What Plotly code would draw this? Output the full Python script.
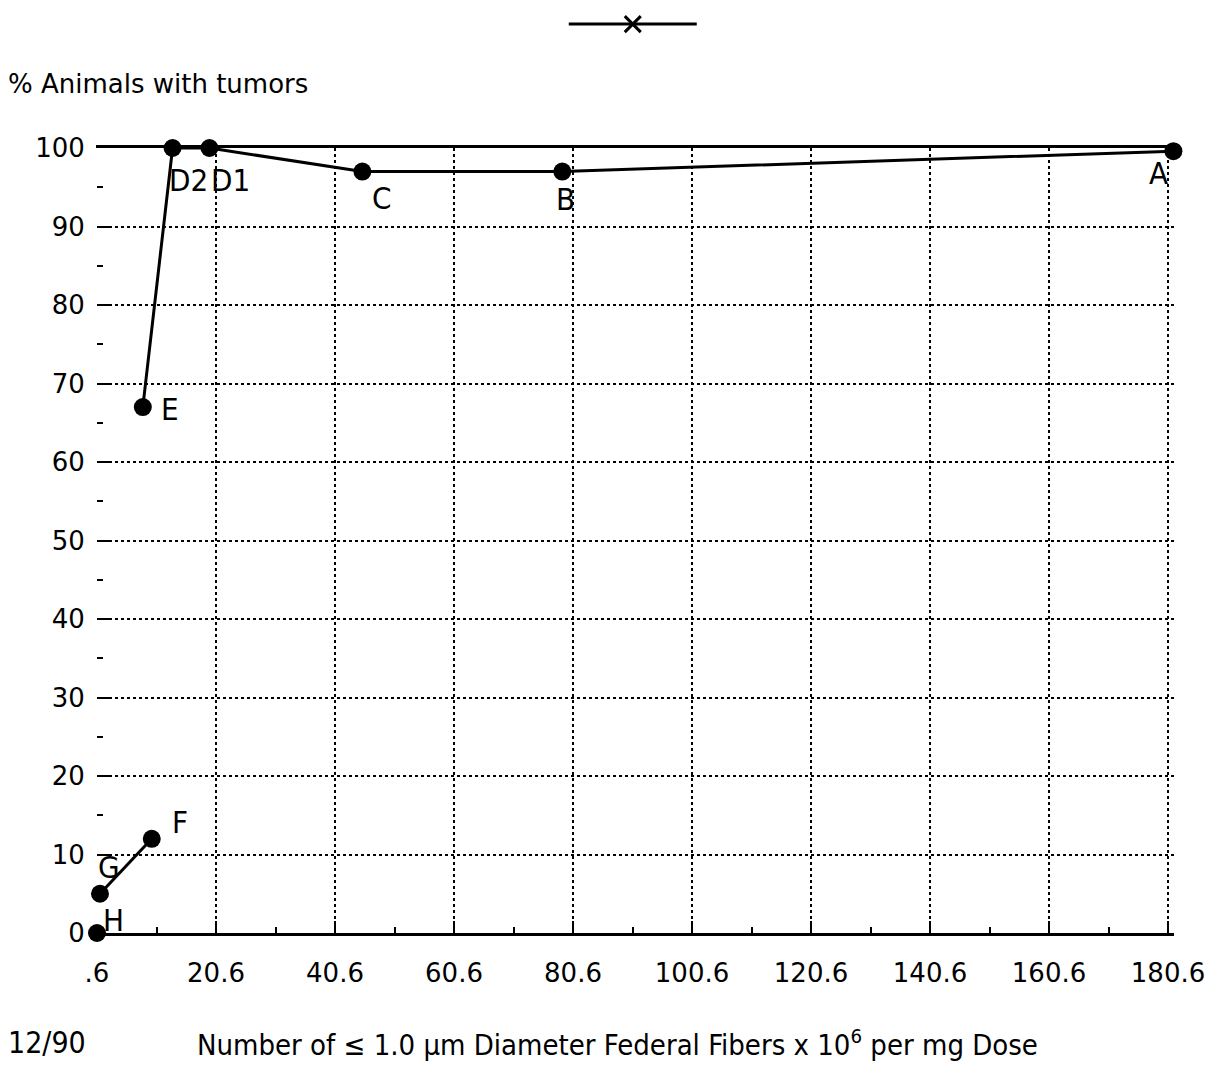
import plotly.graph_objects as go

# Data
point_labels = ["E", "D2", "D1", "C", "B", "A"]
upper_x = [8.3, 13.3, 19.5, 45.2, 78.8, 181.5]
upper_y = [67, 100, 100, 97, 97, 99.6]

lower_labels = ["G", "F"]
lower_x = [1.1, 9.8]
lower_y = [5, 12]

h_label = ["H"]
h_x = [0.6]
h_y = [0]

# label offsets in pixels (style), relative to marker centre
upper_label_dx = [27, 16, 21, 19, 3, -15]
upper_label_dy = [-2, -32, -32, -26, -27, -22]
lower_label_dx = [9, 28]
lower_label_dy = [27, 17]
h_label_dx = [16]
h_label_dy = [13]

x_tickvals = [0.6, 20.6, 40.6, 60.6, 80.6, 100.6, 120.6, 140.6, 160.6, 180.6]
x_ticktext = [".6", "20.6", "40.6", "60.6", "80.6", "100.6", "120.6", "140.6", "160.6", "180.6"]
x_minor = [10.6, 30.6, 50.6, 70.6, 90.6, 110.6, 130.6, 150.6, 170.6]

FONT = "DejaVu Sans"
NARROW = "Liberation Sans Narrow, DejaVu Sans Condensed, Arial Narrow, DejaVu Sans"
BLACK = "black"

fig = go.Figure()

fig.add_trace(go.Scatter(
    x=upper_x, y=upper_y, mode="lines+markers",
    line=dict(color=BLACK, width=3),
    marker=dict(color=BLACK, size=18),
    cliponaxis=False, showlegend=False))

fig.add_trace(go.Scatter(
    x=lower_x, y=lower_y, mode="lines+markers",
    line=dict(color=BLACK, width=3),
    marker=dict(color=BLACK, size=18),
    cliponaxis=False, showlegend=False))

fig.add_trace(go.Scatter(
    x=h_x, y=h_y, mode="markers",
    marker=dict(color=BLACK, size=18),
    cliponaxis=False, showlegend=False))

# Legend-only entry (line with x marker, no name)
fig.add_trace(go.Scatter(
    x=[None], y=[None], mode="lines+markers", name="",
    line=dict(color=BLACK, width=3),
    marker=dict(symbol="x-thin", size=17, color=BLACK, line=dict(width=3, color=BLACK)),
    showlegend=True))

annotations = []
for labels, xs, ys, dxs, dys in [
    (point_labels, upper_x, upper_y, upper_label_dx, upper_label_dy),
    (lower_labels, lower_x, lower_y, lower_label_dx, lower_label_dy),
    (h_label, h_x, h_y, h_label_dx, h_label_dy),
]:
    for t, x, y, dx, dy in zip(labels, xs, ys, dxs, dys):
        annotations.append(dict(
            text=t, x=x, y=y, xref="x", yref="y", showarrow=False,
            xanchor="center", yanchor="middle", xshift=dx, yshift=dy,
            font=dict(family=NARROW, size=31, color=BLACK)))

annotations += [
    dict(text="% Animals with tumors", xref="paper", yref="paper",
         x=-0.0845, y=1.082, xanchor="left", yanchor="middle", showarrow=False,
         font=dict(family=FONT, size=26, color=BLACK)),
    dict(text="12/90", xref="paper", yref="paper",
         x=-0.0845, y=-0.14, xanchor="left", yanchor="middle", showarrow=False,
         font=dict(family=NARROW, size=30, color=BLACK)),
    dict(text="Number of ≤ 1.0 µm Diameter Federal Fibers x 10<sup>6</sup> per mg Dose",
         xref="paper", yref="paper",
         x=0.0909, y=-0.14, xanchor="left", yanchor="middle", showarrow=False,
         font=dict(family=NARROW, size=29, color=BLACK)),
]

fig.update_layout(
    width=1217, height=1069,
    margin=dict(l=97, r=39, t=148, b=136),
    paper_bgcolor="white", plot_bgcolor="white",
    font=dict(family=FONT, size=24, color=BLACK),
    showlegend=True,
    legend=dict(orientation="h", x=0.522, xanchor="center", xref="container",
                y=0.991, yanchor="top", yref="container",
                itemwidth=128, font=dict(size=12),
                bgcolor="rgba(0,0,0,0)"),
    xaxis=dict(
        range=[0.6, 181.6],
        tickmode="array", tickvals=x_tickvals, ticktext=x_ticktext,
        ticks="inside", ticklen=12, tickwidth=2, tickcolor=BLACK,
        minor=dict(tickmode="array", tickvals=x_minor, ticks="inside", ticklen=6,
                   tickwidth=2, tickcolor=BLACK, showgrid=False),
        showline=True, linewidth=3, linecolor=BLACK, mirror=True,
        showgrid=True, gridcolor=BLACK, griddash="dot", gridwidth=1.5,
        zeroline=False, ticklabelstandoff=15,
        tickfont=dict(family=FONT, size=26, color=BLACK),
    ),
    yaxis=dict(
        range=[0, 100],
        tickmode="linear", tick0=0, dtick=10,
        ticks="inside", ticklen=14, tickwidth=2, tickcolor=BLACK,
        minor=dict(dtick=5, ticks="inside", ticklen=6, tickwidth=2, tickcolor=BLACK,
                   showgrid=False),
        showline=True, linecolor="rgba(0,0,0,0)", linewidth=1,
        showgrid=True, gridcolor=BLACK, griddash="dot", gridwidth=1.5,
        zeroline=False, ticklabelstandoff=6,
        tickfont=dict(family=FONT, size=26, color=BLACK),
    ),
    annotations=annotations,
)

fig.write_html("out.html")
